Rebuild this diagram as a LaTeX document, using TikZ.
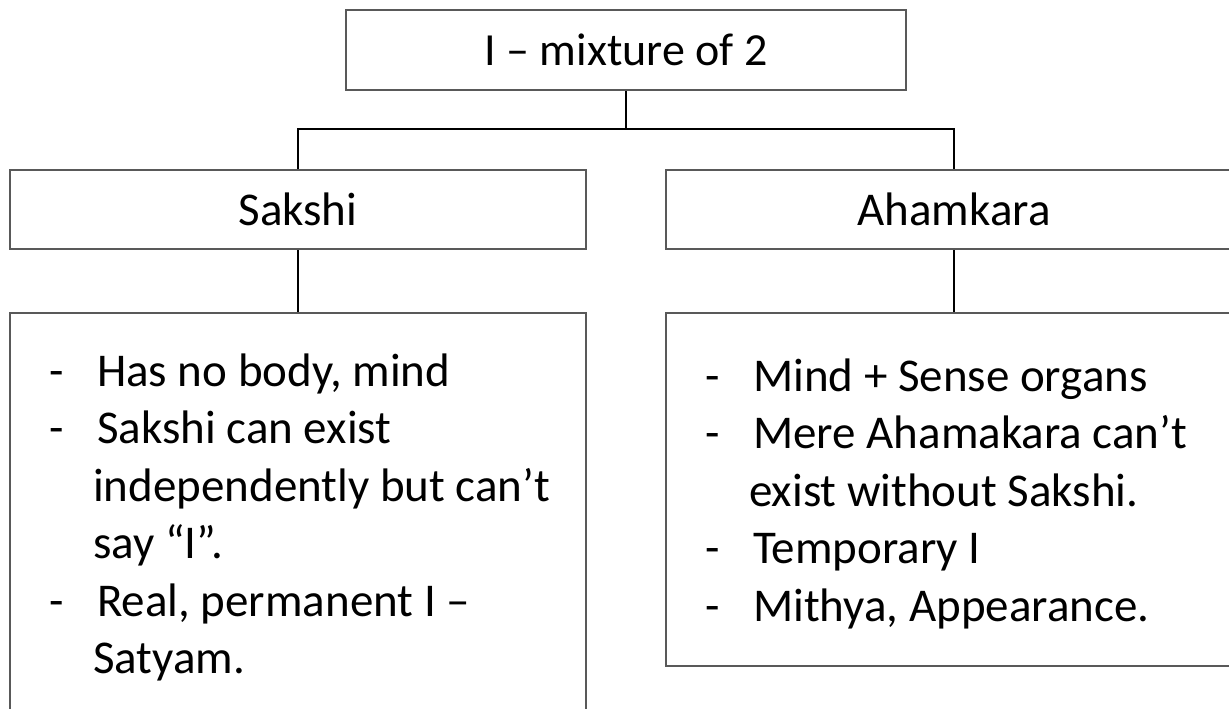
\documentclass[tikz,border=0pt]{standalone}
\usepackage{fontspec}
\setmainfont{Carlito}
\usepackage{tikz}
\usetikzlibrary{positioning}
\definecolor{boxgray}{RGB}{89,89,89}

\begin{document}
\begin{tikzpicture}[x=1pt,y=-1pt,on grid]
    \tikzstyle{head}=[shape=rectangle,draw=boxgray,line width=2pt,inner sep=0pt,font=\fontsize{47}{57.5}\selectfont]
    \tikzstyle{notes}=[shape=rectangle,draw=boxgray,line width=2pt,minimum width=576pt]
    \tikzstyle{txt}=[inner sep=0pt,anchor=base west,font=\fontsize{47}{57.5}\selectfont]
    \tikzstyle{link}=[draw,line width=2pt]

    \useasboundingbox (0,0) rectangle (1229,709);
    \clip (0,0) rectangle (1229,709);

    \node[head, minimum width=560pt, minimum height=80pt, font=\fontsize{46}{55}\selectfont] (root) at (626,50) {I – mixture of 2};
    \node[head, minimum width=576pt, minimum height=79pt, below left=159.5pt and 328pt of root] (sakshi) {Sakshi};
    \node[head, minimum width=576pt, minimum height=79pt, right=656pt of sakshi] (aham) {Ahamkara};
    \node[notes, minimum height=399pt, below=303pt of sakshi] (sakshiN) {};
    \node[notes, minimum height=353pt, below=280pt of aham] (ahamN) {};
    \coordinate (bus) at (626,129);

    \node[txt] (sakshiT) at ([xshift=40pt,yshift=-74pt]sakshiN.north west) {\parbox[t]{540pt}{\raggedright
        \makebox[48pt][l]{-}Has no body, mind\\
        \makebox[48pt][l]{-}Sakshi can exist\\
        \hspace*{44pt}independently but can’t\\
        \hspace*{44pt}say “I”.\\
        \makebox[48pt][l]{-}Real, permanent I –\\
        \hspace*{44pt}Satyam.}};
    \node[txt] (ahamT) at ([xshift=40pt,yshift=-79pt]ahamN.north west) {\parbox[t]{540pt}{\raggedright
        \makebox[48pt][l]{-}Mind + Sense organs\\
        \makebox[48pt][l]{-}Mere Ahamakara can’t\\
        \hspace*{44pt}exist without Sakshi.\\
        \makebox[48pt][l]{-}Temporary I\\
        \makebox[48pt][l]{-}Mithya, Appearance.}};

    \path[link]
    (root.south) -- (bus)
    (sakshi.north) |- (bus) -| (aham.north)
    (sakshi) edge (sakshiN)
    (aham) edge (ahamN)
    ;

\end{tikzpicture}
\end{document}
